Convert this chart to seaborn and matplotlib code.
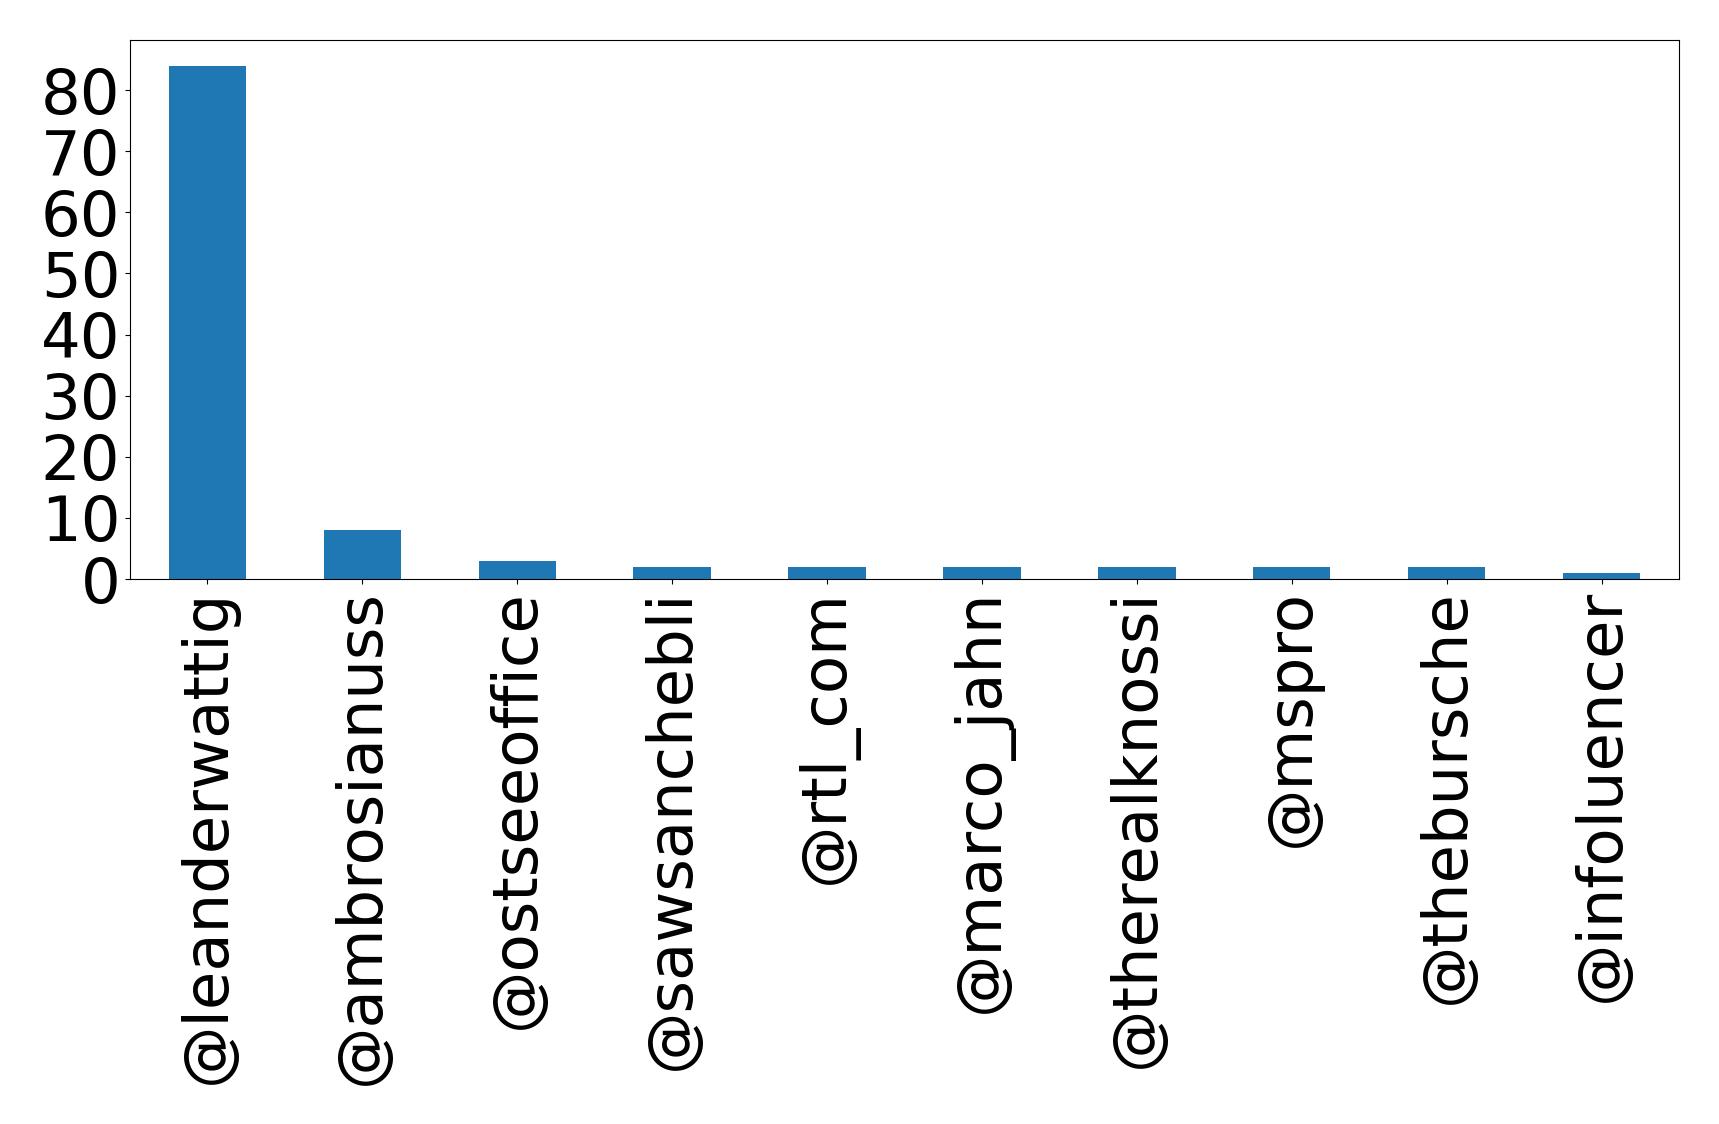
import matplotlib
matplotlib.use("Agg")
import matplotlib.pyplot as plt
import seaborn as sns
import pandas as pd

handles = ["@leanderwattig", "@ambrosianuss", "@ostseeoffice", "@sawsanchebli",
           "@rtl_com", "@marco_jahn", "@therealknossi", "@mspro",
           "@thebursche", "@infoluencer"]
counts = [84, 8, 3, 2, 2, 2, 2, 2, 2, 1]

df = pd.DataFrame({"handle": handles, "count": counts})

fig = plt.figure(figsize=(17.19, 11.24), dpi=100)
ax = fig.add_axes([130 / 1719, 1 - 579 / 1124, (1679 - 130) / 1719, (579 - 40) / 1124])
sns.barplot(data=df, x="handle", y="count", color="#1f77b4", saturation=1,
            width=0.5, ax=ax)
ax.set_xlim(-0.5, len(handles) - 0.5)
ax.set_ylim(0, max(counts) * 1.05)
ax.set_yticks(range(0, 81, 10))
ax.set_xlabel("")
ax.set_ylabel("")
ax.tick_params(axis="both", labelsize=45)
ax.tick_params(axis="x", labelrotation=90)
fig.savefig("out.png", dpi=100)
